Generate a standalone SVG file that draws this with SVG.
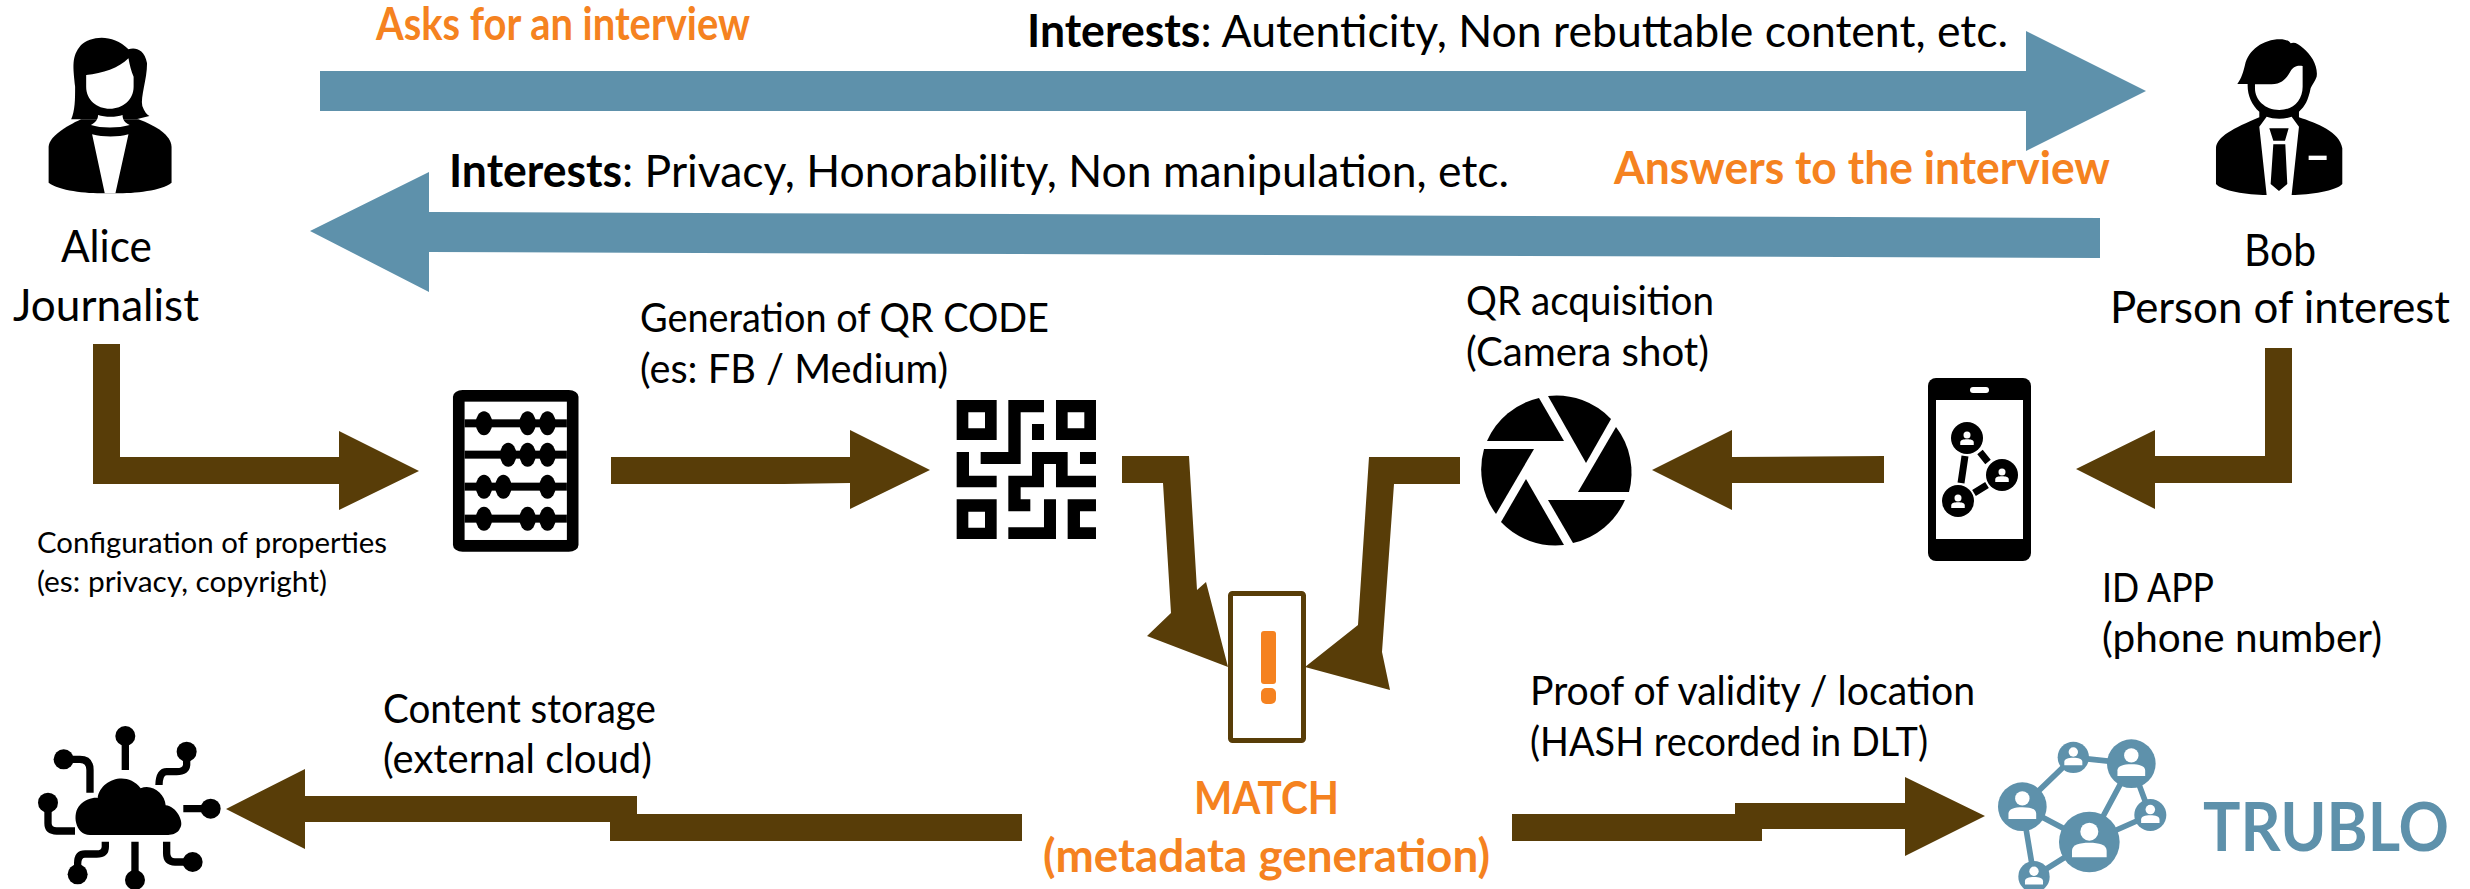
<svg xmlns="http://www.w3.org/2000/svg" width="2470" height="889" viewBox="0 0 2470 889">
<style>
text{font-family:"Lato","Carlito","Liberation Sans",sans-serif;fill:#000}
.l{font-size:45px}.m{font-size:41px}.s{font-size:29px}
.o{fill:#F58220;font-weight:700;font-size:45px}
.b{font-weight:700}
.blue{fill:#5E91AB}.brown{fill:#583D08}.w{fill:#fff}.k{fill:#000}
.cl{fill:none;stroke:#000;stroke-width:22}
.nl{stroke:#5E91AB;stroke-width:17;fill:none}
</style>
<defs>
<g id="p"><circle cy="-31" r="27"/><path d="M-52,46V26C-52,8-30,2 0,2C30,2 52,8 52,26V46Z"/></g>
</defs>
<rect width="2470" height="889" fill="#fff"/>
<g id="connectors">
<polygon class="blue" points="320,71 2026,71 2026,31 2146,91 2026,151 2026,111 320,111"/>
<polygon class="blue" points="310,231 429,172 429,212 2100,218 2100,258 429,252 429,292"/>
<polygon class="brown" points="93,344 120,344 120,457 339,457 339,431 419,471 339,510 339,484 93,484"/>
<polygon class="brown" points="611,457 850,457 850,430 930,470 850,509 850,483 784,484 611,484"/>
<polygon class="brown" points="1122,456 1189,456 1197,590 1206,582 1228,667 1147,636 1171,613 1163,483 1122,483"/>
<polygon class="brown" points="1460,457 1369,457 1358,625 1305,667 1390,690 1382,652 1394,484 1460,484"/>
<polygon class="brown" points="1884,456 1732,457 1732,430 1652,470 1732,510 1732,483 1884,483"/>
<polygon class="brown" points="2265,348 2292,348 2292,483 2155,483 2155,509 2076,469 2155,430 2155,456 2265,456"/>
<polygon class="brown" points="226,809 305,769 305,796 637,796 637,814 1022,814 1022,841 610,841 610,822 305,822 305,849"/>
<polygon class="brown" points="1512,814 1735,814 1735,803 1905,803 1905,777 1985,816 1905,856 1905,829 1762,829 1762,841 1512,841"/>
</g>
<g id="alice">
<g transform="scale(.3953 .3333)">
<path class="k" d="M123,440C125,410 165,380 205,358L350,358C395,378 432,405 434,440V548C410,572 340,580 292,580H265C215,580 150,572 123,548Z"/>
<path class="k" d="M180,358C190,330 190,300 190,260C185,200 180,170 205,135C230,108 285,100 325,148C340,142 365,145 372,190C372,240 355,290 360,318C365,335 372,345 378,348L345,358H215Z"/>
<path class="w" d="M218,225C260,220 300,205 325,175C328,195 332,215 338,230V260C338,300 310,326 278,326C245,326 218,300 218,260Z"/>
<path class="w" d="M230,375C245,365 248,355 248,345C265,352 295,352 310,345C310,358 315,368 328,375C300,385 255,385 230,375Z"/>
<path class="w" d="M233,403C260,412 300,412 325,403L292,580H265Z"/>
</g>
<text class="l" x="61" y="262" textLength="91" lengthAdjust="spacingAndGlyphs">Alice</text>
<text class="l" x="13" y="321" textLength="186" lengthAdjust="spacingAndGlyphs">Journalist</text>
</g>
<g id="bob">
<g transform="translate(2000 0) scale(.3333)">
<path class="k" d="M712,252C725,235 730,215 735,195C745,150 790,118 840,118C855,118 868,122 872,130C882,125 895,130 910,145C935,165 955,200 950,230C945,245 935,255 932,265C925,300 915,320 897,335V352C950,370 1020,395 1027,445V552C1010,572 930,585 875,585H800C740,585 665,572 648,552V445C650,410 700,385 778,352V335C755,315 742,285 743,252Z"/>
<path class="w" d="M765,253H815C850,253 862,230 872,213C880,198 895,195 908,198V260C908,300 880,330 838,330C795,330 765,300 765,265Z"/>
<path class="w" d="M778,380L800,350C820,358 855,358 875,350L897,380L875,585H800Z"/>
<path class="k" d="M808,385H866L855,422H820ZM820,433H856L862,552L837,573L812,552Z"/>
<rect class="w" x="926" y="467" width="54" height="13"/>
</g>
<text class="l" x="2244" y="266" textLength="72" lengthAdjust="spacingAndGlyphs">Bob</text>
<text class="l" x="2110" y="323" textLength="340" lengthAdjust="spacingAndGlyphs">Person of interest</text>
</g>
<g id="abacus" transform="translate(420 330) scale(.4847 .3333)">
<rect class="k" x="68" y="180" width="259" height="485" rx="20"/>
<rect class="w" x="92" y="215" width="211" height="415"/>
<rect class="k" x="92" y="268" width="211" height="24"/>
<rect class="k" x="92" y="362" width="211" height="24"/>
<rect class="k" x="92" y="458" width="211" height="24"/>
<rect class="k" x="92" y="554" width="211" height="24"/>
<g class="k">
<ellipse cx="132" cy="280" rx="17" ry="36"/><ellipse cx="222" cy="280" rx="17" ry="36"/><ellipse cx="263" cy="280" rx="17" ry="36"/>
<ellipse cx="182" cy="374" rx="17" ry="36"/><ellipse cx="222" cy="374" rx="17" ry="36"/><ellipse cx="263" cy="374" rx="17" ry="36"/>
<ellipse cx="132" cy="470" rx="17" ry="36"/><ellipse cx="172" cy="470" rx="17" ry="36"/><ellipse cx="263" cy="470" rx="17" ry="36"/>
<ellipse cx="132" cy="566" rx="17" ry="36"/><ellipse cx="222" cy="566" rx="17" ry="36"/><ellipse cx="263" cy="566" rx="17" ry="36"/>
</g>
</g>
<g id="qr" transform="translate(950 395) scale(.3333)">
<path class="k" fill-rule="evenodd" d="M20,15H140V135H20ZM55,52V100H105V52Z"/>
<path class="k" fill-rule="evenodd" d="M318,15H438V135H318ZM353,52V100H403V52Z"/>
<path class="k" fill-rule="evenodd" d="M20,313H140V432H20ZM55,350V398H105V350Z"/>
<path class="k" d="M175,15H282V52H212V207H92V171H175Z"/>
<rect class="k" x="246" y="87" width="36" height="48"/>
<path class="k" d="M20,171H57V242H140V277H20Z"/>
<rect class="k" x="390" y="171" width="48" height="36"/>
<path class="k" d="M246,171H353V242H438V277H318V207H282V277H212V313H241V349H175V242H246Z"/>
<path class="k" d="M282,313H318V432H175V397H282Z"/>
<path class="k" d="M353,313H438V349H390V397H438V432H353Z"/>
</g>
<g id="camera" class="k">
<path d="M1539,398L1564,441H1487A75,75 0 0 1 1539,398Z"/>
<path d="M1548,396A75,75 0 0 1 1611,419L1586,463Z"/>
<path d="M1616,427A75,75 0 0 1 1629,492H1578Z"/>
<path d="M1625,500A75,75 0 0 1 1573,543L1548,500Z"/>
<path d="M1564,545A75,75 0 0 1 1501,522L1526,479Z"/>
<path d="M1496,514A75,75 0 0 1 1484,449H1534Z"/>
</g>
<g id="phone">
<rect class="k" x="1928" y="378" width="103" height="183" rx="8"/>
<rect class="w" x="1936" y="400" width="87" height="139"/>
<rect class="w" x="1970" y="387" width="19" height="6" rx="3"/>
<g stroke="#000" stroke-width="7" fill="none"><path d="M1965,456L1961,483M1980,452L1988,462M1974,493L1987,485"/></g>
<circle class="k" cx="1967" cy="438" r="16"/><circle class="k" cx="2002" cy="475" r="16"/><circle class="k" cx="1958" cy="501" r="16"/>
<use href="#p" class="w" transform="translate(1967 439) scale(.13)"/>
<use href="#p" class="w" transform="translate(2002 476) scale(.13)"/>
<use href="#p" class="w" transform="translate(1958 502) scale(.13)"/>
</g>
<g id="match">
<rect x="1230.500" y="593.500" width="73" height="147" rx="2" fill="#fff" stroke="#583D08" stroke-width="5"/>
<rect x="1261" y="631" width="15" height="53" rx="3" fill="#F58220"/>
<rect x="1261" y="688" width="15" height="16" rx="5" fill="#F58220"/>
<text class="o" x="1194" y="814" textLength="145" lengthAdjust="spacingAndGlyphs">MATCH</text>
<text class="o" x="1043" y="872" textLength="447" lengthAdjust="spacingAndGlyphs">(metadata generation)</text>
</g>
<g id="cloud" transform="translate(0 680) scale(.3333)">
<path class="k" d="M270,465C225,465 215,400 240,375C255,358 280,352 293,354C300,300 380,270 422,325C455,310 495,340 497,376C530,378 555,430 540,445C535,460 515,465 505,465Z"/>
<path class="cl" d="M376,168V270M560,215V255Q558,275 530,275H500Q478,275 477,315M191,238H240Q270,238 270,270V338M144,368V430Q144,453 170,453H225M550,386H632M316,485V500Q316,522 290,522H255Q233,522 233,550V583M405,485V600M500,485V520Q500,546 525,546H578"/>
<g class="k"><circle cx="376" cy="168" r="30"/><circle cx="560" cy="215" r="30"/><circle cx="191" cy="238" r="30"/><circle cx="144" cy="368" r="30"/><circle cx="632" cy="386" r="30"/><circle cx="233" cy="583" r="30"/><circle cx="405" cy="600" r="30"/><circle cx="578" cy="546" r="30"/></g>
</g>
<g id="trublo">
<g transform="translate(1960 720) scale(.3333)">
<path class="nl" d="M340,112L514,131M340,112L187,260M514,131L388,366M514,131L571,285M187,260L388,366M187,260L222,470M388,366L571,285M388,366L222,470"/>
<g class="blue"><circle cx="340" cy="112" r="47"/><circle cx="514" cy="131" r="73"/><circle cx="187" cy="260" r="73"/><circle cx="571" cy="285" r="48"/><circle cx="388" cy="366" r="91"/><circle cx="222" cy="470" r="47"/></g>
<g class="w">
<use href="#p" transform="translate(340 112) scale(.52)"/><use href="#p" transform="translate(514 131) scale(.8)"/><use href="#p" transform="translate(187 260) scale(.8)"/><use href="#p" transform="translate(571 285) scale(.53)"/><use href="#p" transform="translate(388 366)"/><use href="#p" transform="translate(222 470) scale(.52)"/>
</g>
</g>
<text x="2203" y="851" font-size="66" font-weight="700" style="fill:#5E91AB" textLength="246" lengthAdjust="spacingAndGlyphs">TRUBLO</text>
</g>
<g id="labels">
<text class="o" x="376" y="40" textLength="374" lengthAdjust="spacingAndGlyphs">Asks for an interview</text>
<text class="l" x="1027" y="47" textLength="981" lengthAdjust="spacingAndGlyphs"><tspan class="b">Interests</tspan>: Autenticity, Non rebuttable content, etc.</text>
<text class="l" x="449" y="187" textLength="1060" lengthAdjust="spacingAndGlyphs"><tspan class="b">Interests</tspan>: Privacy, Honorability, Non manipulation, etc.</text>
<text class="o" x="1614" y="184" textLength="496" lengthAdjust="spacingAndGlyphs">Answers to the interview</text>
<text class="m" x="640" y="332" textLength="409" lengthAdjust="spacingAndGlyphs">Generation of QR CODE</text>
<text class="m" x="640" y="383" textLength="308" lengthAdjust="spacingAndGlyphs">(es: FB / Medium)</text>
<text class="m" x="1466" y="315" textLength="248" lengthAdjust="spacingAndGlyphs">QR acquisition</text>
<text class="m" x="1466" y="366" textLength="243" lengthAdjust="spacingAndGlyphs">(Camera shot)</text>
<text class="s" x="37" y="553" textLength="350" lengthAdjust="spacingAndGlyphs">Configuration of properties</text>
<text class="s" x="37" y="592" textLength="290" lengthAdjust="spacingAndGlyphs">(es: privacy, copyright)</text>
<text class="m" x="2102" y="602" textLength="112" lengthAdjust="spacingAndGlyphs">ID APP</text>
<text class="m" x="2102" y="652" textLength="280" lengthAdjust="spacingAndGlyphs">(phone number)</text>
<text class="m" x="383" y="723" textLength="273" lengthAdjust="spacingAndGlyphs">Content storage</text>
<text class="m" x="383" y="773" textLength="269" lengthAdjust="spacingAndGlyphs">(external cloud)</text>
<text class="m" x="1530" y="705" textLength="445" lengthAdjust="spacingAndGlyphs">Proof of validity / location</text>
<text class="m" x="1530" y="756" textLength="398" lengthAdjust="spacingAndGlyphs">(HASH recorded in DLT)</text>
</g>
</svg>
